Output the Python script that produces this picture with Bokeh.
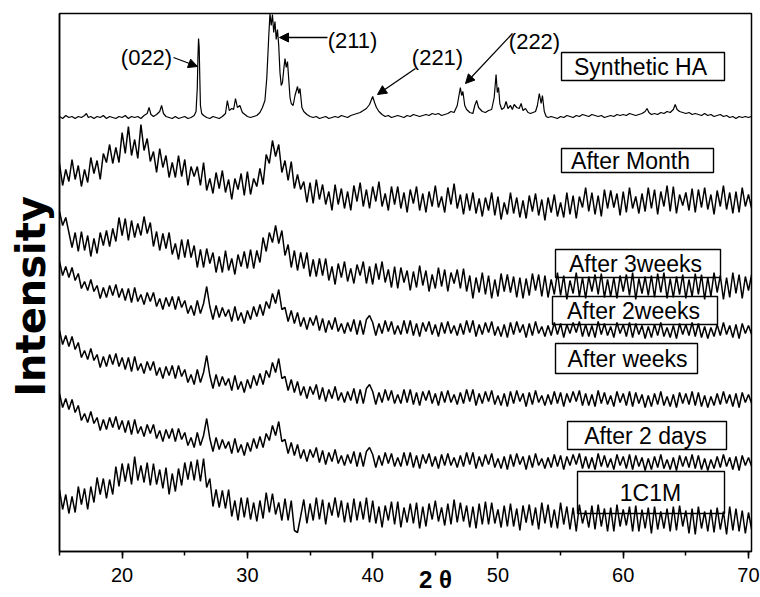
import math
from bokeh.plotting import figure
from bokeh.models import Range1d, SingleIntervalTicker, FixedTicker, Label, Arrow, NormalHead
from bokeh.embed import file_html
from bokeh.resources import INLINE

# ---------------- data ----------------
# 2-theta scan grid (degrees) for the noisy traces
two_theta = [15 + 0.25 * i for i in range(222)]

# Synthetic HA (finer sampling around the peaks)
x_ha = [15.0, 15.25, 15.5, 15.75, 16.0, 16.25, 16.5, 16.75, 17.0, 17.15, 17.3, 17.5, 17.75,
        18.0, 18.25, 18.5, 18.75, 19.0, 19.25, 19.5, 19.75, 20.0, 20.25, 20.5, 20.75, 21.0, 21.25, 21.5, 21.75,
        22.0, 22.15, 22.3, 22.5, 22.75, 23.0, 23.15, 23.3, 23.5, 23.75, 24.0, 24.25, 24.5, 24.75, 25.0, 25.25, 25.5, 25.75,
        25.9, 26.0, 26.05, 26.1, 26.15, 26.2, 26.25, 26.35, 26.5, 26.75, 27.0, 27.25, 27.5, 27.75,
        28.0, 28.25, 28.4, 28.55, 28.75, 28.9, 29.05, 29.2, 29.4, 29.6, 29.8, 30.0, 30.25, 30.5, 30.75,
        31.0, 31.2, 31.4, 31.55, 31.7, 31.8, 31.9, 32.0, 32.1, 32.2, 32.3, 32.4, 32.5,
        32.6, 32.7, 32.8, 32.9, 33.0, 33.1, 33.2, 33.3, 33.4, 33.5, 33.65, 33.8, 34.0, 34.1, 34.2, 34.35, 34.5, 34.75,
        35.0, 35.25, 35.5, 35.75, 36.0, 36.25, 36.5, 36.75, 37.0, 37.25, 37.5, 37.75, 38.0, 38.25, 38.5, 38.75,
        39.0, 39.25, 39.5, 39.75, 40.0, 40.15, 40.3, 40.5, 40.75, 41.0, 41.25, 41.5, 41.75,
        42.0, 42.25, 42.5, 42.75, 43.0, 43.25, 43.5, 43.75, 44.0, 44.25, 44.5, 44.75, 45.0, 45.25, 45.5, 45.75,
        46.0, 46.25, 46.5, 46.75, 47.0, 47.1, 47.2, 47.35, 47.5, 47.75, 48.0, 48.15, 48.3, 48.45, 48.6, 48.75,
        49.0, 49.25, 49.5, 49.7, 49.85, 49.95, 50.05, 50.15, 50.3, 50.5, 50.65, 50.8, 51.0, 51.15, 51.3, 51.5, 51.7, 51.85,
        52.0, 52.2, 52.4, 52.6, 52.8, 53.0, 53.15, 53.3, 53.45, 53.55, 53.7, 53.85,
        54.0, 54.25, 54.5, 54.75, 55.0, 55.25, 55.5, 55.75, 56.0, 56.25, 56.5, 56.75, 57.0, 57.25, 57.5, 57.75,
        58.0, 58.25, 58.5, 58.75, 59.0, 59.25, 59.5, 59.75, 60.0, 60.25, 60.5, 60.75, 61.0, 61.25, 61.5, 61.75,
        61.9, 62.05, 62.25, 62.5, 62.75, 63.0, 63.25, 63.5, 63.75, 64.0, 64.15, 64.3, 64.5, 64.75,
        65.0, 65.25, 65.5, 65.75, 66.0, 66.25, 66.5, 66.75, 67.0, 67.25, 67.5, 67.75, 68.0, 68.25, 68.5, 68.75,
        69.0, 69.25, 69.5, 69.75, 70.0, 70.2]
i_ha = [1, -1, 2, 0, 1, -1, 1, 0, 2, 4, 0, 1, -1,
        1, 0, 2, -1, 1, 0, -1, 1, 0, 2, -1, 1, 0, 1, -1, 2,
        4, 10, 3, 1, 3, 6, 12, 4, 1, 0, -1, 1, -1, 0, 1, -1, 0, 2,
        6, 30, 60, 79, 70, 40, 12, 4, 2, 0, -1, 1, 0, -1,
        1, 4, 17, 7, 9, 8, 19, 10, 12, 5, 3, 1, 0, 1, 2,
        5, 10, 17, 40, 80, 104, 92, 103, 85, 96, 78, 88, 72,
        45, 32, 35, 48, 59, 50, 56, 38, 20, 14, 12, 22, 31, 24, 29, 10, 6, 3,
        1, 0, 1, -1, 0, 1, -1, 0, 1, 0, 2, 1, 0, 2, 3, 4,
        5, 7, 9, 13, 21, 15, 10, 6, 3, 1, 2, 0, 1,
        2, 1, 0, 2, 1, 3, 2, 1, 2, 3, 2, 4, 3, 4, 2, 3,
        4, 6, 5, 12, 30, 22, 26, 12, 8, 5, 4, 12, 17, 10, 8, 6,
        5, 7, 8, 20, 43, 25, 30, 14, 8, 10, 16, 9, 12, 8, 13, 10, 9, 14,
        7, 9, 5, 4, 5, 6, 12, 24, 14, 22, 6, 1,
        0, 1, 0, -1, 1, 0, 2, 1, 0, 2, 1, 3, 2, 1, 3, 2,
        1, 2, 0, 1, 2, 1, 3, 2, 3, 2, 4, 3, 2, 3, 4, 6,
        9, 5, 3, 4, 3, 5, 4, 6, 5, 8, 13, 8, 6, 5,
        4, 5, 3, 4, 3, 2, 4, 2, 3, 1, 2, 3, 1, 2, 0, 1,
        -1, 1, 0, 1, 0, 1]

# After Month
i_month = [39, 17, 33, 21, 43, 23, 37, 16, 33, 20, 45, 29, 42, 23, 49, 40,
           58, 39, 55, 40, 70, 49, 76, 47, 63, 44, 78, 52, 64, 41, 51, 30,
           54, 35, 47, 25, 40, 25, 47, 26, 43, 17, 36, 26, 36, 17, 40, 12,
           24, 9, 30, 14, 32, 10, 23, 3, 24, 13, 29, 7, 31, 8, 24, 16,
           34, 18, 48, 39, 62, 46, 58, 30, 42, 22, 41, 14, 28, 13, 21, 0,
           20, -1, 23, 3, 18, -2, 11, -8, 18, -2, 14, -6, 11, -8, 17, 1,
           20, -4, 13, -6, 16, 1, 21, -4, 9, -8, 16, -2, 16, -6, 10, -10,
           13, -1, 16, -8, 9, -10, 11, -4, 17, -5, 6, -10, 15, -2, 19, -6,
           8, -12, 9, -8, 10, -11, 4, -14, 5, -8, 10, -13, 6, -17, 0, -12,
           10, -11, 5, -15, 2, -16, 7, -9, 9, -13, 3, -18, 5, -10, 8, -14,
           0, -15, 10, -12, 7, -16, 6, -5, 15, -9, 10, -12, 7, -14, 13, -6,
           12, -5, 9, -13, 11, -10, 15, -6, 6, -11, 9, -9, 15, -6, 13, -12,
           11, -4, 17, -9, 16, -11, 8, -3, 10, -8, 14, -10, 13, -5, 15, -7,
           8, -12, 12, -4, 17, -7, 10, -11, 11, -10, 15, -4, 8, -6]

# After 3weeks
i_3weeks = [71, 57, 65, 50, 35, 50, 31, 51, 32, 47, 26, 44, 29, 50, 37, 52,
            36, 54, 41, 65, 47, 64, 42, 62, 45, 59, 47, 66, 49, 60, 36, 51,
            32, 49, 34, 50, 28, 39, 23, 43, 25, 43, 25, 37, 15, 33, 15, 34,
            19, 30, 10, 26, 10, 32, 12, 24, 8, 28, 16, 31, 14, 33, 14, 32,
            20, 45, 31, 50, 40, 57, 39, 52, 27, 38, 15, 32, 12, 30, 14, 30,
            6, 23, 6, 24, 7, 24, 2, 16, -2, 19, 5, 21, 1, 14, -1, 18,
            7, 21, -1, 16, -2, 19, 3, 21, 0, 13, -5, 16, -6, 15, 0, 12,
            -8, 11, -5, 17, -3, 12, -9, 8, -6, 15, -4, 13, -9, 10, -1, 13,
            -6, 14, -9, 7, -16, 5, -10, 10, -12, 7, -16, 3, -14, 9, -9, 8,
            -10, 6, -15, 5, -16, 4, -13, 9, -8, 8, -14, 7, -15, 3, -12, 10,
            -13, 7, -17, 2, -11, 10, -14, 5, -16, 6, -9, 8, -12, 9, -15, 3,
            -14, 5, -16, 7, -9, 8, -13, 10, -17, 4, -11, 6, -13, 7, -15, 9,
            -10, 10, -16, 4, -15, 6, -12, 8, -16, 3, -14, 9, -12, 8, -17, 5,
            -14, 10, -10, 7, -17, 5, -15, 10, -11, 8, -16, 6, -8, 8]

# After 2weeks / After weeks / After 2 days (same recorded pattern)
i_weeks = [69, 55, 64, 53, 63, 50, 57, 42, 49, 40, 51, 39, 45, 32, 43, 33,
           45, 35, 46, 33, 42, 30, 42, 28, 43, 29, 36, 26, 38, 29, 38, 24,
           32, 21, 33, 24, 34, 21, 34, 23, 30, 17, 25, 15, 30, 17, 27, 44,
           24, 11, 25, 13, 23, 14, 21, 9, 24, 10, 18, 7, 20, 11, 24, 14,
           26, 15, 29, 22, 37, 27, 41, 21, 23, 9, 20, 7, 18, 4, 13, 1,
           13, 5, 15, 0, 12, -2, 10, 1, 13, -1, 7, -3, 8, -1, 11, -4,
           10, -4, 11, 15, 8, -5, 7, -3, 10, -1, 9, -4, 5, -4, 10, -3,
           10, -5, 7, -6, 8, -1, 9, -4, 6, -6, 8, -3, 9, -3, 5, -5,
           7, -4, 10, -2, 10, -6, 6, -4, 8, -2, 9, -5, 4, -6, 6, -7,
           8, -4, 9, -2, 6, -7, 7, -5, 9, -3, 4, -6, 5, -5, 8, -4,
           7, -7, 6, -3, 8, -2, 9, -6, 6, -6, 5, -7, 9, -4, 7, -5,
           4, -7, 8, -3, 6, -6, 8, -7, 7, -4, 5, -8, 4, -7, 6, -5,
           8, -6, 3, -7, 5, -8, 7, -4, 6, -5, 8, -6, 7, -7, 4, -8,
           3, -6, 6, -5, 8, -4, 5, -7, 6, -8, 7, -3, 5, -4]

# 1C1M
i_1c1m = [31, 11, 26, 7, 24, 8, 34, 16, 32, 11, 34, 18, 43, 26, 42, 22,
          41, 26, 54, 34, 57, 39, 57, 36, 64, 40, 55, 38, 58, 35, 57, 36,
          51, 32, 53, 26, 47, 29, 52, 35, 58, 41, 59, 40, 61, 39, 62, 33,
          42, 14, 31, 13, 30, 12, 31, 4, 20, 0, 23, 3, 23, 1, 18, -1,
          20, 2, 28, 8, 27, 6, 18, 0, 22, 0, 20, -10, -12, 4, 21, -3,
          17, 0, 23, 1, 21, -4, 18, 5, 23, 3, 20, -2, 18, -2, 22, 0,
          19, 1, 23, -2, 20, -3, 14, -7, 15, 0, 19, -4, 19, -7, 13, -2,
          17, -3, 18, -8, 14, -6, 17, 1, 20, -1, 13, -5, 17, -4, 21, -2,
          18, -1, 15, -7, 14, -8, 17, -4, 19, -4, 18, -3, 11, -7, 15, -6,
          17, -6, 12, -10, 15, -2, 16, -5, 13, -9, 18, -3, 16, -7, 11, -8,
          18, -4, 14, -9, 13, -11, 16, -3, 10, -7, 15, -9, 16, -6, 12, -11,
          13, -11, 16, -6, 11, -5, 14, -11, 15, -11, 11, -8, 13, -13, 14, -9,
          9, -8, 12, -11, 14, -10, 15, -6, 10, -13, 12, -14, 14, -8, 9, -11,
          11, -12, 13, -9, 9, -14, 14, -10, 12, -11, 10, -13, 8, -9]

# stacking offsets (a.u.) and labels, top to bottom
labels = ["Synthetic HA", "After Month", "After 3weeks", "After 2weeks",
          "After weeks", "After 2 days", "1C1M"]
offsets = [434, 349, 269, 221, 152, 89, 31]
peak_labels = ["(022)", "(211)", "(221)", "(222)"]

assert len(x_ha) == len(i_ha)
for arr in (i_month, i_3weeks, i_weeks, i_1c1m):
    assert len(arr) == len(two_theta), len(arr)

series = [
    (x_ha, i_ha, offsets[0], 1.2),
    (two_theta, i_month, offsets[1], 1.5),
    (two_theta, i_3weeks, offsets[2], 1.5),
    (two_theta, i_weeks, offsets[3], 1.5),
    (two_theta, i_weeks, offsets[4], 1.5),
    (two_theta, i_weeks, offsets[5], 1.5),
    (two_theta, i_1c1m, offsets[6], 1.5),
]

# ---------------- figure ----------------
FONT = "Liberation Sans"
NB = "\u00a0"
p = figure(width=760, height=597, output_backend="svg", toolbar_location=None,
           x_range=Range1d(15, 70.24), y_range=Range1d(0, 538),
           min_border_left=59, min_border_right=9, min_border_top=13, min_border_bottom=46)
p.xgrid.visible = False
p.ygrid.visible = False
p.outline_line_color = "black"
p.outline_line_width = 1.5
p.outline_line_alpha = 1.0

p.xaxis.ticker = SingleIntervalTicker(interval=10, num_minor_ticks=2)
p.xaxis.major_tick_out = 7
p.xaxis.major_tick_in = 0
p.xaxis.minor_tick_out = 4
p.xaxis.minor_tick_in = 0
p.xaxis.axis_line_width = 1.5
p.xaxis.major_tick_line_width = 1.5
p.xaxis.minor_tick_line_width = 1.5
p.xaxis.major_label_text_font = FONT
p.xaxis.major_label_text_font_size = "20px"
p.xaxis.major_label_text_color = "black"
p.xaxis.major_label_standoff = 9
p.xaxis.axis_label = NB * 9 + "2 \u03b8"
p.xaxis.axis_label_text_font = FONT
p.xaxis.axis_label_text_font_style = "bold"
p.xaxis.axis_label_text_font_size = "24px"
p.xaxis.axis_label_text_color = "black"
p.xaxis.axis_label_standoff = -19

p.yaxis.ticker = FixedTicker(ticks=[])
p.yaxis.major_label_text_font_size = "0px"
p.yaxis.axis_line_width = 1.5
p.yaxis.major_tick_out = 0
p.yaxis.minor_tick_out = 0
p.yaxis.major_tick_line_color = None
p.yaxis.minor_tick_line_color = None
p.yaxis.axis_label = "Intensity" + NB * 2
p.yaxis.axis_label_text_font = "DejaVu Sans"
p.yaxis.axis_label_text_font_style = "bold"
p.yaxis.axis_label_text_font_size = "40px"
p.yaxis.axis_label_text_color = "black"
p.yaxis.axis_label_standoff = 6


def dx(px):
    return 15 + (px - 59) / 12.527


def dy(py):
    return 551 - py


# label boxes (drawn first so the traces run over their edges)
boxes = [(561, 724, 52, 80), (561, 713, 148, 172), (555, 720, 249, 277),
         (552, 717, 296, 324), (555, 697, 343, 373), (567, 726, 421, 449),
         (577, 724, 471, 513)]
p.quad(left=[dx(b[0]) for b in boxes], right=[dx(b[1]) for b in boxes],
       top=[dy(b[2]) for b in boxes], bottom=[dy(b[3]) for b in boxes],
       fill_color="white", line_color="black", line_width=1.4)

for xs, ys, off, lw in series:
    p.line(xs, [off + v for v in ys], line_color="black", line_width=lw)

text_pos = [(640, 66), (630, 160), (635, 263), (633, 310), (627, 358), (645, 435), (650, 492)]
for t, (tx, ty) in zip(labels, text_pos):
    p.add_layout(Label(x=dx(tx), y=dy(ty), text=t, text_align="center", text_baseline="middle",
                       text_font=FONT, text_font_size="23px", text_color="black"))

peak_text_pos = [(146, 57), (352, 40), (437, 57), (534, 41)]
for t, (tx, ty) in zip(peak_labels, peak_text_pos):
    p.add_layout(Label(x=dx(tx), y=dy(ty), text=t, text_align="center", text_baseline="middle",
                       text_font=FONT, text_font_size="22px", text_color="black"))

arrows = [((173, 57), (197, 66)), ((327, 37), (279, 37)), ((415, 68), (377, 94)), ((512, 33), (465, 83))]
for (sx, sy), (ex, ey) in arrows:
    p.add_layout(Arrow(end=NormalHead(size=9, fill_color="black", line_color="black", line_width=1),
                       x_start=dx(sx), y_start=dy(sy), x_end=dx(ex), y_end=dy(ey),
                       line_width=1.3, line_color="black"))

open("out.html", "w").write(file_html(p, INLINE))
